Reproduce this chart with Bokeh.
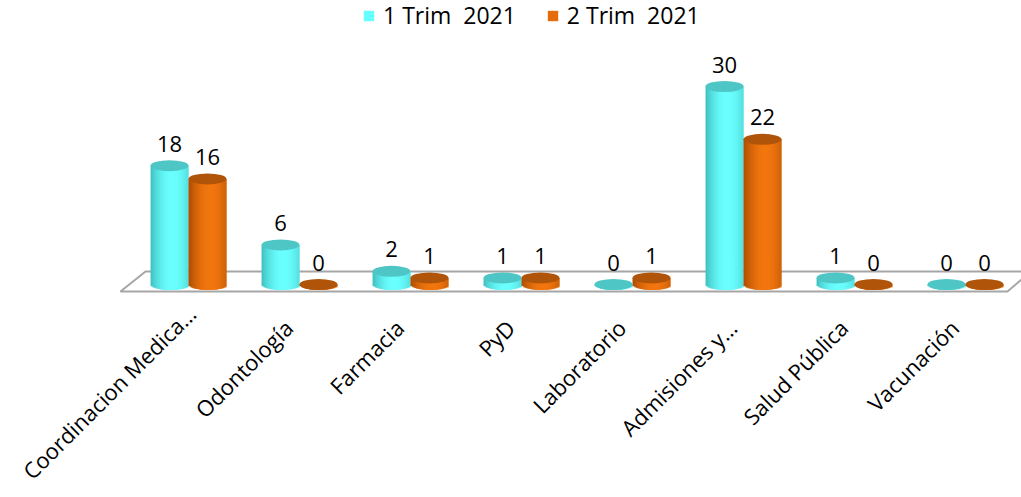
import math
from bokeh.plotting import figure
from bokeh.models import Range1d, Legend, LegendItem, ColumnDataSource
from bokeh.core.properties import value
from bokeh.embed import file_html
from bokeh.resources import INLINE

# ---------------- data ----------------
categories = ["Coordinacion Medica…", "Odontología", "Farmacia", "PyD",
              "Laboratorio", "Admisiones y…", "Salud Pública", "Vacunación"]
series_names = ["1 Trim  2021", "2 Trim  2021"]
trim1 = [18, 6, 2, 1, 0, 30, 1, 0]
trim2 = [16, 0, 1, 1, 1, 22, 0, 0]

# ---------------- layout / style ----------------
W, H = 1021, 497
FRAME_H = H
BASE_PX = 284          # pixel row of value 0 (from top of frame)
PX_PER_UNIT = 6.6
CAT0_PX = 188
CAT_PX = 111.0
BAR_W = 0.342
TOP_H = 11             # ellipse height in px
FONT = "Open Sans"
LABEL_FS = 22
LABEL_DX_PX = -11      # category label anchor, relative to category centre
LABEL_Y_PX = 323       # category label anchor row
LABEL_MAX_BOTTOM = 485 # labels are pushed up-right to stay inside the picture

x0 = -CAT0_PX / CAT_PX
x1 = x0 + W / CAT_PX
y1 = BASE_PX / PX_PER_UNIT
y0 = -(FRAME_H - BASE_PX) / PX_PER_UNIT

p = figure(width=W, height=H, title=None,
           x_range=Range1d(x0, x1), y_range=Range1d(y0, y1),
           output_backend="svg", toolbar_location=None,
           min_border=0, y_axis_location=None, x_axis_location=None)
p.outline_line_color = None
p.xgrid.visible = False
p.ygrid.visible = False
p.background_fill_color = "white"

n = len(categories)

# floor (decoration)
fx = [-0.613, -0.387, x1 + 0.2, x1 + 0.2, x1, (n - 1) + 0.378]
fy = [-7 / PX_PER_UNIT, 13 / PX_PER_UNIT, 13 / PX_PER_UNIT, 5 / PX_PER_UNIT,
      5 / PX_PER_UNIT, -7 / PX_PER_UNIT]
p.patch(fx, fy, fill_color="white", line_color="#A6A6A6", line_width=2)


def hexmix(c1, c2, t):
    r = [round(a + (b - a) * t) for a, b in zip(c1, c2)]
    return "#%02x%02x%02x" % tuple(r)


styles = [
    dict(dark=(0x3A, 0xB4, 0xB4), bright=(0x6A, 0xFF, 0xFF), top="#4EC6C6", legend="#66FFFF"),
    dict(dark=(0xA0, 0x46, 0x00), bright=(0xF2, 0x76, 0x0E), top="#B0540A", legend="#E46C0A"),
]
offsets = [-BAR_W / 2, BAR_W / 2]
N = 20
sw = BAR_W / N
legend_renderers = []

for s, vals in enumerate([trim1, trim2]):
    st = styles[s]
    lefts, rights, tops, bottoms, colors = [], [], [], [], []
    for i, v in enumerate(vals):
        cx = i + offsets[s]
        bl, br = cx - BAR_W / 2, cx + BAR_W / 2
        for k in range(N):
            u = (k + 0.5) / N
            t = max(0.0, 1 - ((u - 0.58) / 0.62) ** 2)
            depth_px = (TOP_H / 2) * math.sqrt(max(0.0, 1 - (2 * u - 1) ** 2))
            lefts.append(bl + k * sw)
            rights.append(min(bl + (k + 2) * sw, br))
            tops.append(v)
            bottoms.append(-depth_px / PX_PER_UNIT)
            colors.append(hexmix(st["dark"], st["bright"], t))
    p.quad(left=lefts, right=rights, top=tops, bottom=bottoms,
           fill_color=colors, line_color=None)

for s, vals in enumerate([trim1, trim2]):
    st = styles[s]
    cxs = [i + offsets[s] for i in range(n)]
    p.ellipse(x=cxs, y=vals, width=BAR_W, height=TOP_H, height_units="screen",
              fill_color=st["top"], line_color=None)
    src = ColumnDataSource(dict(x=cxs, y=vals, t=[str(v) for v in vals]))
    p.text(x="x", y="y", text="t", source=src, text_font=value(FONT),
           text_font_size="22px", text_color="#000000", text_align="center",
           text_baseline="bottom", y_offset=-14)
    # legend swatch renderer (zero-height, draws nothing in the plot)
    r = p.vbar(x=[0], top=[0], bottom=[0], width=0.1, fill_color=st["legend"], line_color=None)
    legend_renderers.append(r)

# category labels, rotated 45 degrees; long ones are nudged up-right to fit
lx, ly = [], []
for i, c in enumerate(categories):
    est_len = len(c) * 0.54 * LABEL_FS
    bottom = LABEL_Y_PX + est_len * math.sqrt(0.5) + 8
    shift = max(0.0, bottom - LABEL_MAX_BOTTOM)
    lx.append(i + (LABEL_DX_PX + shift) / CAT_PX)
    ly.append((BASE_PX - (LABEL_Y_PX - shift)) / PX_PER_UNIT)
lab_src = ColumnDataSource(dict(x=lx, y=ly, t=categories))
p.text(x="x", y="y", text="t", source=lab_src, angle=math.pi / 4,
       text_font=value(FONT), text_font_size="%dpx" % LABEL_FS, text_color="#000000",
       text_align="right", text_baseline="middle")

legend = Legend(items=[LegendItem(label=series_names[k], renderers=[legend_renderers[k]])
                       for k in range(2)],
                orientation="horizontal", location=(362, FRAME_H - 31),
                border_line_color=None, background_fill_alpha=0,
                label_text_font=FONT, label_text_font_size="23px",
                label_text_color="#000000", label_standoff=8,
                glyph_width=13, glyph_height=13, spacing=30, padding=0, margin=0)
p.add_layout(legend, "center")

open("out.html", "w").write(file_html(p, INLINE))
